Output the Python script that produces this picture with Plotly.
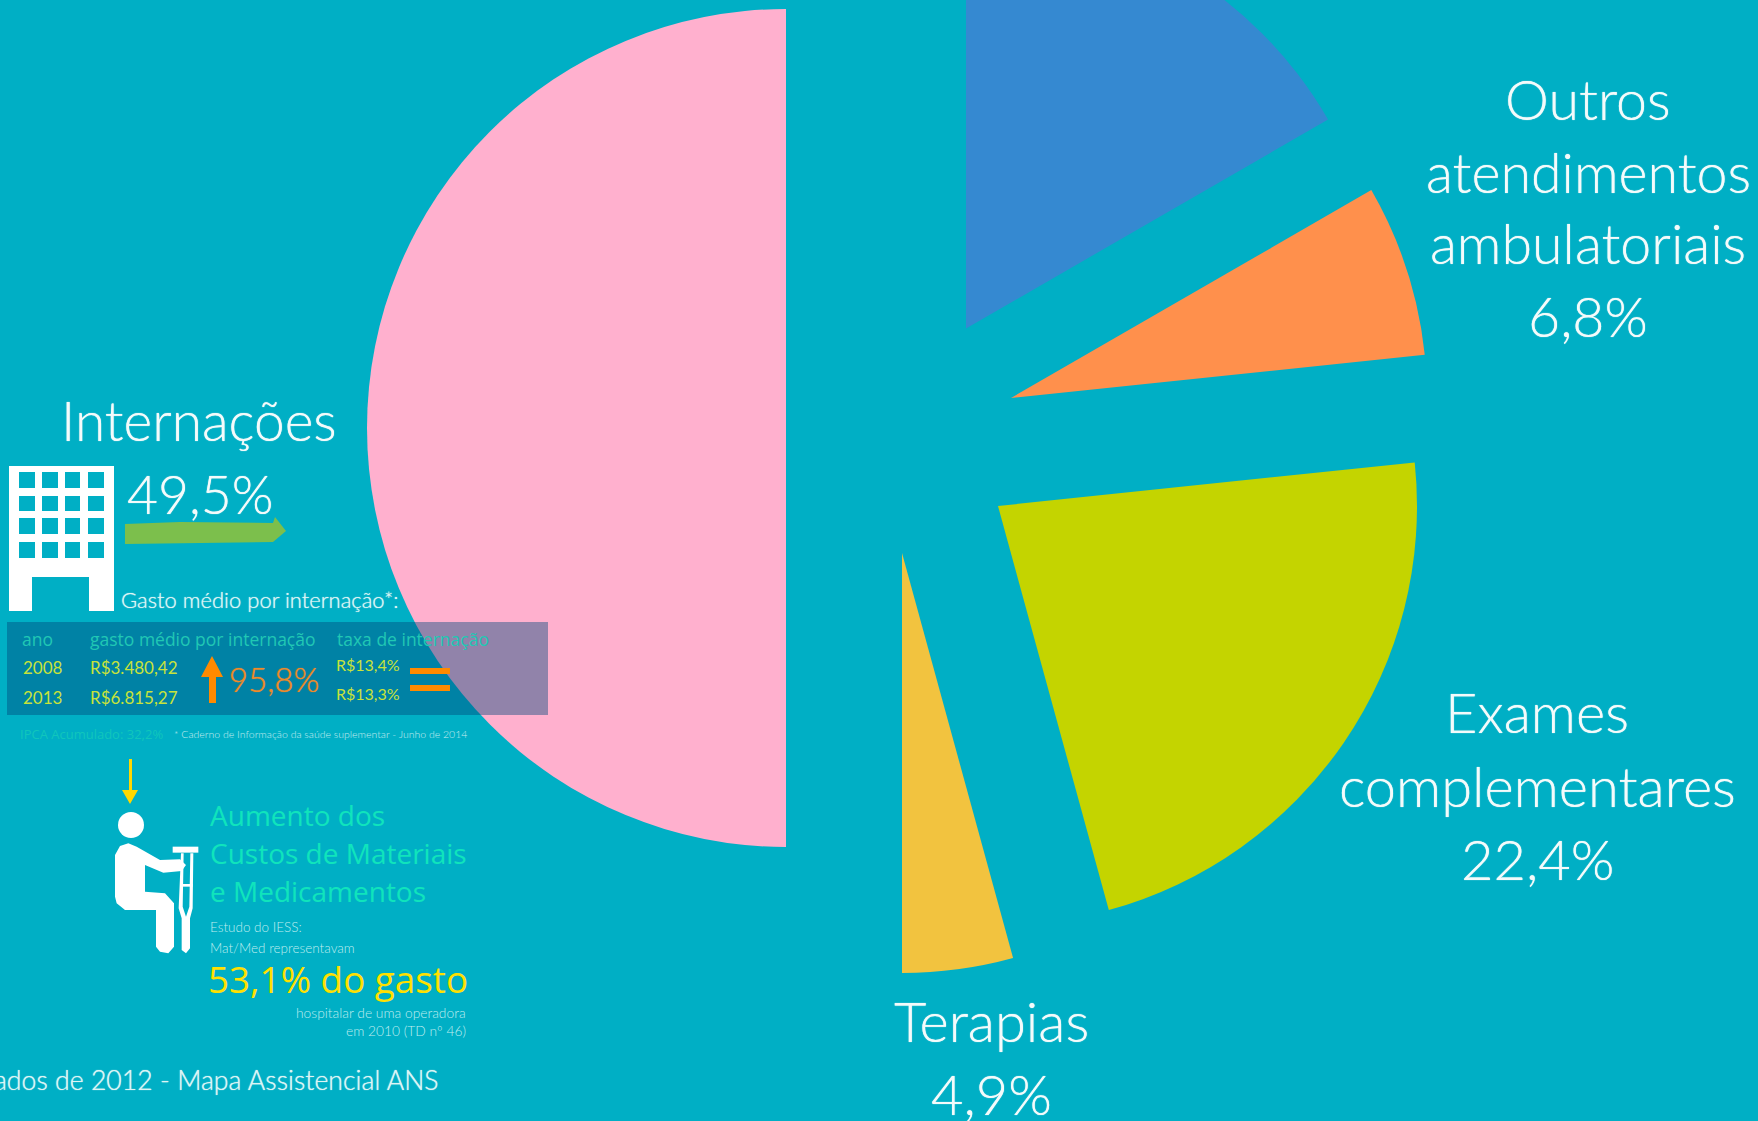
import plotly.graph_objects as go

# ---------- data ----------
SLICE_NAMES = ["Sem rótulo visível", "Outros atendimentos ambulatoriais", "Exames complementares", "Terapias", "Internações"]
SLICE_SHARES = [16.67, 6.67, 22.40, 4.26, 50.0]   # angular share of each drawn wedge
SLICE_COLORS = ["#3589D1", "#FF904C", "#C4D400", "#F2C33F", "#FFB0CE"]
SLICE_CENTERS = [(966, 328.5), (1011, 398), (998, 506), (902, 553), (786, 428)]
SLICE_RADII = [418, 416, 419, 420, 419]

YEARS = ["2008", "2013"]
COSTS = ["R$3.480,42", "R$6.815,27"]
RATES = ["R$13,4%", "R$13,3%"]

# ---------- canvas: taller than the window, the top is cropped by the page ----------
W, H, SHIFT = 1758, 1221, 100
BG = "#00AFC5"
HEAD = "Lato"
OPEN = "Open Sans"

def px(x):
    return x / W

def py(y):
    return 1 - (y + SHIFT) / H

fig = go.Figure()
for i, (cx, cy) in enumerate(SLICE_CENTERS):
    r = SLICE_RADII[i]
    colors = ["rgba(0,0,0,0)"] * len(SLICE_SHARES)
    colors[i] = SLICE_COLORS[i]
    fig.add_trace(go.Pie(
        labels=SLICE_NAMES, values=SLICE_SHARES, sort=False, direction="clockwise", rotation=0,
        marker=dict(colors=colors, line=dict(width=0)), textinfo="none", hoverinfo="skip",
        showlegend=False,
        domain=dict(x=[px(cx - r), px(cx + r)], y=[py(cy + r), py(cy - r)]),
    ))

shapes = []

def poly(points, color, close=True):
    d = "M " + " L ".join(f"{px(x):.5f},{py(y):.5f}" for x, y in points) + (" Z" if close else "")
    return dict(type="path", xref="paper", yref="paper", path=d, fillcolor=color, line=dict(width=0), layer="above")

def rect(x0, y0, x1, y1):
    return [(x0, y0), (x1, y0), (x1, y1), (x0, y1)]

def zoomed(points, ox=0, oy=740):
    return [(ox + x / 3, oy + y / 3) for x, y in points]

# table panel
shapes.append(dict(type="rect", xref="paper", yref="paper", x0=px(7), x1=px(548), y0=py(715), y1=py(622),
                   fillcolor="rgba(0,72,123,0.43)", line=dict(width=0), layer="above"))

# building
def sub(pts):
    return "M " + " L ".join(f"{px(x):.5f},{py(y):.5f}" for x, y in pts) + " Z "
path = sub([(9, 466), (114, 466), (114, 611), (89, 611), (89, 577), (32, 577), (32, 611), (9, 611)])
for wy0, wy1 in [(472, 488), (496, 511), (518, 534), (542, 558)]:
    for wx0, wx1 in [(19, 35), (42, 58), (65, 80), (88, 104)]:
        path += sub(rect(wx0, wy0, wx1, wy1))
shapes.append(dict(type="path", xref="paper", yref="paper", path=path, fillcolor="white",
                   line=dict(width=0), layer="above", fillrule="evenodd"))

# green arrow
shapes.append(poly([(125, 524), (180, 522), (273, 523), (275, 517), (286, 531), (273, 542), (200, 543), (125, 544)], "#7CBF4C"))
# orange up arrow
shapes.append(poly([(212, 656), (223, 677), (216, 677), (216, 703), (209, 703), (209, 677), (201, 677)], "#FF8A00"))
# equals
shapes.append(poly(rect(410, 668, 450, 674), "#FF8A00"))
shapes.append(poly(rect(410, 685, 450, 691), "#FF8A00"))
# yellow arrow
shapes.append(poly([(129, 759), (132, 759), (132, 790), (138, 790), (130, 804), (122, 790), (129, 790)], "#FFD800"))
# person
shapes.append(dict(type="circle", xref="paper", yref="paper", x0=px(118), x1=px(144), y0=py(838), y1=py(812),
                   fillcolor="white", line=dict(width=0), layer="above"))
shapes.append(poly(zoomed([(345, 345), (360, 318), (385, 310), (410, 320), (480, 360), (540, 358), (558, 375),
                           (545, 393), (490, 398), (435, 375), (435, 455), (495, 460), (522, 490), (522, 620),
                           (505, 640), (480, 635), (468, 620), (468, 510), (375, 510), (350, 490), (345, 470)]), "white"))
# crutch
shapes.append(poly(zoomed(rect(518, 320, 595, 338)), "white"))
shapes.append(poly(zoomed([(543, 340), (551, 340), (548, 500), (558, 530), (568, 500), (571, 340), (580, 340),
                           (578, 505), (570, 535), (570, 625), (558, 640), (545, 630), (545, 535), (536, 505)]), "white"))
shapes.append(poly(zoomed(rect(540, 432, 578, 440)), "white"))

annotations = []

def text(t, x, y, size, color, anchor="center", family=HEAD, weight=300, bold=False):
    font = dict(family=family, size=size, color=color, weight=weight)
    if bold:
        font["shadow"] = f"0 0 1px {color}"
    annotations.append(dict(text=t, x=px(x), y=py(y), xref="paper", yref="paper", xanchor=anchor, yanchor="middle",
                            showarrow=False, font=font, borderpad=0, borderwidth=0))

WHITE = "#F4FBFB"
for t, y in [("Outros", 99), ("atendimentos", 171), ("ambulatoriais", 243), ("6,8%", 316)]:
    text(t, 1588, y, 55.5, WHITE, bold=True)
for t, y in [("Exames", 712), ("complementares", 785), ("22,4%", 858)]:
    text(t, 1537, y, 56, WHITE, bold=True)
for t, y in [("Terapias", 1020), ("4,9%", 1093)]:
    text(t, 991, y, 56, WHITE, bold=True)
text("Internações", 199, 420, 55, WHITE, bold=True)
text("49,5%", 127, 493, 53.5, WHITE, "left", bold=True)
text("Gasto médio por internação*:", 121, 599, 22, "#DDF5F5", "left", bold=True)

TEAL = "#20C8B4"
LIME = "#C8E33A"
text("ano", 22, 639, 17.5, TEAL, "left", OPEN, 400)
text("gasto médio por internação", 90, 639, 17.5, TEAL, "left", OPEN, 400)
text("taxa de internação", 337, 639, 17.5, TEAL, "left", OPEN, 400)
for t, c, r, y, y2 in zip(YEARS, COSTS, RATES, [667, 697], [664, 693]):
    text(t, 23, y, 17, LIME, "left", HEAD, 400)
    text(c, 90, y, 17, LIME, "left", HEAD, 400)
    text(r, 336, y2, 16, LIME, "left", HEAD, 400)
text("95,8%", 229, 679, 33, "#F08A2A", "left", bold=True)
text("IPCA Acumulado: 32,2%", 20, 734, 13, "#10C6BC", "left", OPEN, 400)
text("* Caderno de Informação da saúde suplementar - Junho de 2014", 174, 734, 10.5, "#C4ECEF", "left")

MINT = "#10E4BC"
text("Aumento dos", 210, 815, 28, MINT, "left", OPEN, 400)
text("Custos de Materiais", 210, 853, 28, MINT, "left", OPEN, 400)
text("e Medicamentos", 210, 891, 28, MINT, "left", OPEN, 400)
text("Estudo do IESS:", 210, 927, 13.5, "#BFEDEF", "left")
text("Mat/Med representavam", 210, 948, 13.5, "#BFEDEF", "left")
text("53,1% do gasto", 208, 979, 36.8, "#FFE000", "left", OPEN, 400)
text("hospitalar de uma operadora", 466, 1012, 13.8, "#BFEDEF", "right")
text("em 2010 (TD nº 46)", 466, 1030, 13.8, "#BFEDEF", "right")
text("Dados de 2012 - Mapa Assistencial ANS", 439, 1080, 26.7, "#DDF5F5", "right", bold=True)

fig.update_layout(width=W, height=H, margin=dict(l=0, r=0, t=0, b=0), paper_bgcolor=BG, plot_bgcolor=BG,
                  shapes=shapes, annotations=annotations, showlegend=False)

post = f"""
document.documentElement.style.background='{BG}';
document.documentElement.style.overflow='hidden';
document.body.style.margin='0';
document.body.style.background='{BG}';
document.body.style.overflow='hidden';
var gd=document.getElementById('{{plot_id}}');
gd.style.position='absolute';gd.style.left='0';gd.style.top='-{SHIFT}px';
"""
fig.write_html("out.html", post_script=post, config=dict(displayModeBar=False))
